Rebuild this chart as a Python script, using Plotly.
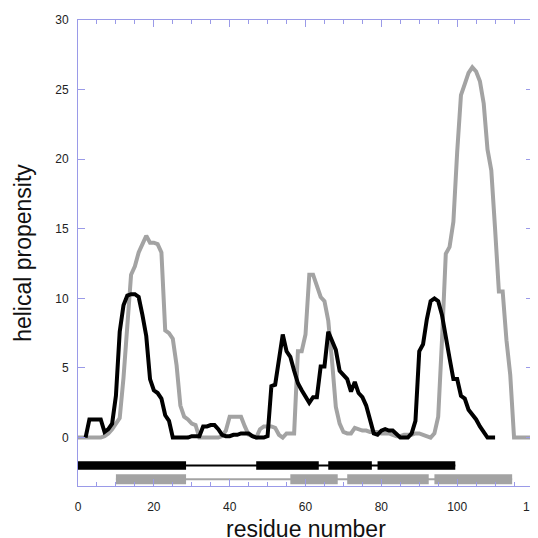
import plotly.graph_objects as go

# Helical propensity profiles
black_x = list(range(2, 111))
black_y = [0, 1.3, 1.3, 1.3, 1.3, 0.4, 0.6, 1.0, 3.0, 7.6, 9.5, 10.2, 10.3, 10.3, 10.1, 8.8, 7.3, 4.2, 3.4, 3.2,
           2.8, 1.6, 1.2, 0, 0, 0, 0, 0, 0.1, 0.1, 0.1, 0.8, 0.8, 0.9, 0.9, 0.6, 0.2, 0.1, 0.1, 0.2,
           0.2, 0.3, 0.3, 0.3, 0.1, 0, 0, 0, 0.1, 3.7, 3.8, 5.5, 7.4, 6.2, 5.8, 4.8, 3.9, 3.4, 3.0, 2.5,
           2.9, 2.9, 5.1, 5.1, 7.6, 6.9, 6.3, 4.8, 4.5, 4.2, 3.3, 4.0, 3.2, 2.9, 2.3, 1.3, 0.3, 0.2, 0.5, 0.6,
           0.5, 0.5, 0.2, 0, 0, 0, 0.3, 1.2, 6.2, 6.7, 8.5, 9.8, 10.0, 9.8, 8.8, 7.4, 5.7, 4.2, 4.2, 3.0,
           2.8, 2.0, 1.7, 1.3, 0.8, 0.4, 0, 0, 0]

grey_x = list(range(0, 121))
grey_y = [0, 0, 0, 0, 0, 0, 0, 0.1, 0.3, 0.6, 1.0, 1.4, 4.3, 7.8, 11.7, 12.3, 13.3, 13.9, 14.5, 14.0,
          14.0, 13.9, 13.3, 7.7, 7.5, 7.1, 5.2, 2.3, 1.5, 1.3, 1.0, 0.9, 0, 0, 0, 0, 0, 0, 0.1, 0.5,
          1.5, 1.5, 1.5, 1.5, 0.8, 0.2, 0.1, 0, 0.6, 0.8, 0.8, 0.8, 0.7, 0.2, 0, 0.3, 0.3, 0.3, 6.2, 6.2,
          7.4, 11.7, 11.7, 10.8, 10.1, 9.8, 8.4, 5.5, 2.2, 1.0, 0.4, 0.3, 0.3, 0.7, 0.6, 0.5, 0.5, 0.4, 0.4, 0.4,
          0.3, 0.3, 0.3, 0.2, 0.1, 0.1, 0.2, 0.2, 0.2, 0.3, 0.3, 0.2, 0.1, 0, 0.3, 1.5, 7.0, 13.2, 13.7, 15.5,
          20.5, 24.6, 25.4, 26.2, 26.6, 26.3, 25.6, 24.0, 20.7, 19.2, 15.0, 10.5, 10.5, 7.0, 4.5, 0, 0, 0, 0, 0,
          0]

# Secondary structure segments (helices)
black_helix_start = [0, 47, 66, 79]
black_helix_end = [28.5, 63.5, 77.5, 99.5]
grey_helix_start = [10, 56, 71, 94]
grey_helix_end = [28.5, 68.5, 92.5, 114.5]

x_title = "residue number"
y_title = "helical propensity"

BLACK = "#000000"
GREY = "#a3a3a3"
AXIS = "#9a9ae8"
black_level = -2.01
grey_level = -3.0

fig = go.Figure()

# connector lines
fig.add_trace(go.Scatter(x=[black_helix_start[0], black_helix_end[-1]], y=[black_level] * 2,
                         mode="lines", line=dict(color=BLACK, width=2), hoverinfo="skip"))
fig.add_trace(go.Scatter(x=[grey_helix_start[0], grey_helix_end[-1]], y=[grey_level] * 2,
                         mode="lines", line=dict(color=GREY, width=2), hoverinfo="skip"))
# helix bars
fig.add_trace(go.Bar(orientation="h", y=[black_level] * len(black_helix_start), base=black_helix_start,
                     x=[e - s for s, e in zip(black_helix_start, black_helix_end)], width=0.62,
                     marker=dict(color=BLACK, line=dict(width=0))))
fig.add_trace(go.Bar(orientation="h", y=[grey_level] * len(grey_helix_start), base=grey_helix_start,
                     x=[e - s for s, e in zip(grey_helix_start, grey_helix_end)], width=0.72,
                     marker=dict(color=GREY, line=dict(width=0))))

fig.add_trace(go.Scatter(x=grey_x, y=grey_y, mode="lines", line=dict(color=GREY, width=4)))
fig.add_trace(go.Scatter(x=black_x, y=black_y, mode="lines", line=dict(color=BLACK, width=4)))

fig.update_layout(
    width=530, height=530, showlegend=False, barmode="overlay",
    paper_bgcolor="white", plot_bgcolor="white",
    margin=dict(l=70, r=5, t=12, b=52, autoexpand=False),
    font=dict(family="Liberation Sans, Arial, sans-serif", color="#222222", size=12),
    annotations=[dict(text=x_title, xref="paper", yref="paper", x=0.5, y=0,
                      xanchor="center", yanchor="top", yshift=-28, showarrow=False,
                      font=dict(size=23, color="#111111"))],
)
fig.update_xaxes(
    range=[0, 120], tickvals=[0, 20, 40, 60, 80, 100, 120],
    ticks="inside", ticklen=7, tickcolor=AXIS, tickwidth=1,
    minor=dict(ticks="inside", ticklen=4, tickcolor=AXIS, dtick=5, tick0=0),
    showline=True, linecolor=AXIS, linewidth=1, mirror="allticks",
    showgrid=False, zeroline=False, automargin=False, ticklabelstandoff=10,
    ticklabeloverflow="allow",
)
fig.update_yaxes(
    range=[-3.48, 30], tickvals=[0, 5, 10, 15, 20, 25, 30],
    ticks="inside", ticklen=7, tickcolor=AXIS, tickwidth=1,
    showline=True, linecolor=AXIS, linewidth=1, mirror="allticks",
    showgrid=False, zeroline=False, ticklabelstandoff=6, automargin=False,
    title=dict(text=y_title, font=dict(size=23, color="#111111"), standoff=17),
)

fig.write_html("out.html")
